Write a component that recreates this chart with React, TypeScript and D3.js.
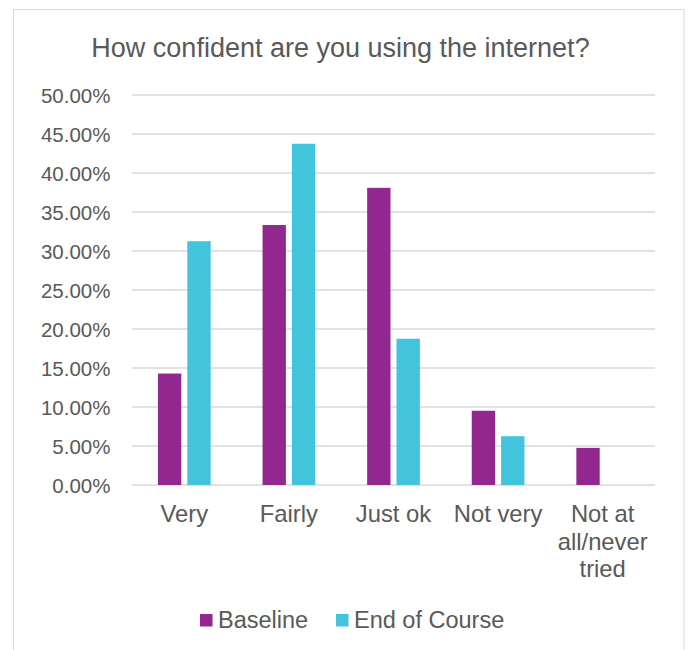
import React from "react";
import * as d3 from "d3";

const title = "How confident are you using the internet?";
const categories = ["Very", "Fairly", "Just ok", "Not very", "Not at all/never tried"];
const seriesNames = ["Baseline", "End of Course"];
const baselineValues = [0.1429, 0.3333, 0.381, 0.0952, 0.0476];
const endOfCourseValues = [0.3125, 0.4375, 0.1875, 0.0625, 0];
const tickValues = [0, 0.05, 0.1, 0.15, 0.2, 0.25, 0.3, 0.35, 0.4, 0.45, 0.5];
const seriesColors = ["#92278F", "#42C4DD"];

const W = 688;
const H = 650;
const FONT = "Arial, 'Liberation Sans', sans-serif";
const TEXT = "#595959";
const GRID = "#d9d9d9";

function wrap(text: string, maxW: number, font: string): string[] {
  const canvas = document.createElement("canvas");
  const ctx = canvas.getContext("2d");
  if (!ctx) return [text];
  ctx.font = font;
  const words = text.split(" ");
  const lines: string[] = [];
  let cur = "";
  for (const w of words) {
    const t = cur ? cur + " " + w : w;
    if (cur && ctx.measureText(t).width > maxW) {
      lines.push(cur);
      cur = w;
    } else cur = t;
  }
  if (cur) lines.push(cur);
  return lines;
}

export default function App() {
  const x = d3.scaleBand<string>().domain(categories).range([132, 655]).padding(0);
  const bw = x.bandwidth();
  const groupW = 52.7;
  const xi = d3
    .scaleBand<string>()
    .domain(seriesNames)
    .range([bw / 2 - groupW / 2, bw / 2 + groupW / 2])
    .paddingInner(0.2044)
    .paddingOuter(0);
  const y = d3.scaleLinear().domain([0, 0.5]).range([485, 95]);
  const fmt = d3.format(".2%");
  const series = [baselineValues, endOfCourseValues];
  const catSize = 23.8;
  const catFont = `${catSize}px ${FONT}`;

  return (
    <div style={{ position: "absolute", left: 0, top: 0 }}>
      <svg width={W} height={H} style={{ display: "block", background: "#fff" }}>
        <rect x={13.5} y={9.5} width={670.5} height={660} fill="#fff" stroke={GRID} strokeWidth={1} />
        <text x={340.5} y={56.5} textAnchor="middle" fontFamily={FONT} fontSize={27} fill={TEXT}>
          {title}
        </text>
        {tickValues.map((t) => (
          <g key={t}>
            <line x1={132} x2={655} y1={y(t)} y2={y(t)} stroke={GRID} strokeWidth={1.5} />
            <text x={110.5} y={y(t) + 8.3} textAnchor="end" fontFamily={FONT} fontSize={20.5} fill={TEXT}>
              {fmt(t)}
            </text>
          </g>
        ))}
        {series.map((vals, si) =>
          categories.map((c, ci) => {
            const v = vals[ci];
            if (!v) return null;
            return (
              <rect
                key={`${si}-${ci}`}
                x={(x(c) as number) + (xi(seriesNames[si]) as number)}
                y={y(v)}
                width={xi.bandwidth()}
                height={y(0) - y(v)}
                fill={seriesColors[si]}
              />
            );
          })
        )}
        {categories.map((c) => {
          const lines = wrap(c, 104, catFont);
          return (
            <text
              key={c}
              x={(x(c) as number) + bw / 2}
              y={522}
              textAnchor="middle"
              fontFamily={FONT}
              fontSize={catSize}
              fill={TEXT}
            >
              {lines.map((l, i) => (
                <tspan key={i} x={(x(c) as number) + bw / 2} dy={i === 0 ? 0 : 27.5}>
                  {l}
                </tspan>
              ))}
            </text>
          );
        })}
        {seriesNames.map((s, i) => {
          const lx = [200, 336][i];
          return (
            <g key={s}>
              <rect x={lx} y={614} width={12.5} height={12.5} fill={seriesColors[i]} />
              <text x={lx + 18} y={628} fontFamily={FONT} fontSize={23.5} fill={TEXT}>
                {s}
              </text>
            </g>
          );
        })}
      </svg>
    </div>
  );
}
